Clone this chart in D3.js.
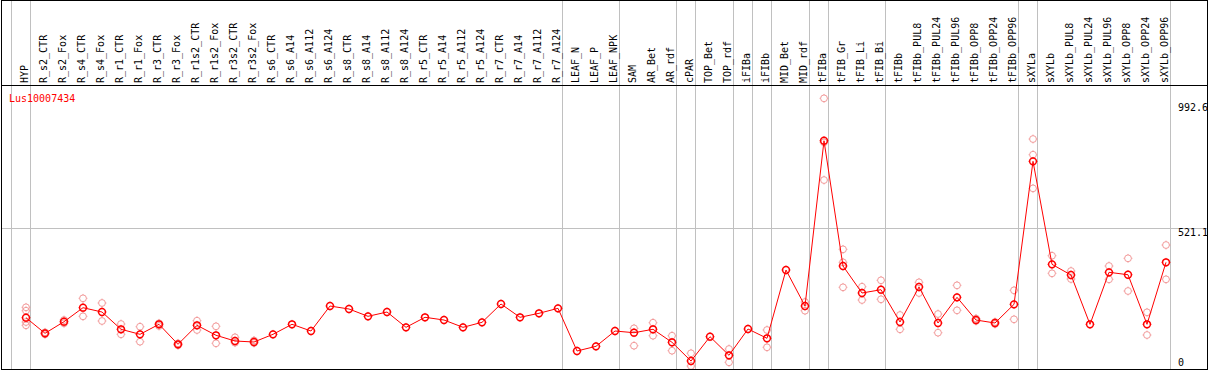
<!DOCTYPE html>
<html>
<head>
<meta charset="utf-8">
<script src="https://cdn.jsdelivr.net/npm/d3@7"></script>
<style>
  body { margin: 0; background: #fff; }
  svg { display: block; }
  text { font-family: "DejaVu Sans Mono", "Liberation Mono", monospace; font-size: 10px; }
</style>
</head>
<body>
<div id="chart"></div>
<script>
var width = 1209;
var height = 370;

var geneName = "Lus10007434";

var columns = ["HYP", "R_s2_CTR", "R_s2_Fox", "R_s4_CTR", "R_s4_Fox", "R_r1_CTR", "R_r1_Fox",
  "R_r3_CTR", "R_r3_Fox", "R_r1s2_CTR", "R_r1s2_Fox", "R_r3s2_CTR", "R_r3s2_Fox", "R_s6_CTR",
  "R_s6_A14", "R_s6_A112", "R_s6_A124", "R_s8_CTR", "R_s8_A14", "R_s8_A112", "R_s8_A124",
  "R_r5_CTR", "R_r5_A14", "R_r5_A112", "R_r5_A124", "R_r7_CTR", "R_r7_A14", "R_r7_A112",
  "R_r7_A124", "LEAF_N", "LEAF_P", "LEAF_NPK", "SAM", "AR_Bet", "AR_rdf", "cPAR", "TOP_Bet",
  "TOP_rdf", "iFIBa", "iFIBb", "MID_Bet", "MID_rdf", "tFIBa", "tFIB_Gr", "tFIB_Li", "tFIB_Bi",
  "tFIBb", "tFIBb_PUL8", "tFIBb_PUL24", "tFIBb_PUL96", "tFIBb_OPP8", "tFIBb_OPP24",
  "tFIBb_OPP96", "sXYLa", "sXYLb", "sXYLb_PUL8", "sXYLb_PUL24", "sXYLb_PUL96", "sXYLb_OPP8",
  "sXYLb_OPP24", "sXYLb_OPP96"];

// first column of each sample group (gray separators)
var groupStarts = ["HYP", "R_s2_CTR", "LEAF_N", "SAM", "cPAR", "TOP_Bet", "iFIBa", "iFIBb",
  "MID_Bet", "tFIBa", "tFIB_Gr", "tFIBb", "sXYLa", "sXYLb"];

var means = [182.7, 123.7, 167.6, 220.6, 204.3, 138.9, 119.9, 157.8, 82.1, 154.0, 116.2, 94.6,
  90.8, 119.9, 157.8, 132.4, 227.0, 215.7, 188.0, 204.3, 146.4, 184.3, 174.0, 146.4, 165.3,
  234.6, 184.3, 199.4, 218.3, 56.8, 74.5, 132.4, 126.0, 138.9, 89.7, 18.9, 110.9, 40.5, 140.0,
  104.8, 363.2, 227.0, 852.4, 378.4, 276.2, 288.7, 166.5, 298.9, 162.7, 259.9, 174.0, 162.7,
  233.4, 774.5, 384.8, 344.3, 157.8, 354.5, 345.4, 157.8, 392.4];

var replicates = [
  [222.1, 209.2, 166.5, 154.0], [127.5, 120.0], [174.0, 161.6], [256.1, 188.0], [238.4, 170.3],
  [158.9, 119.9], [148.7, 91.9], [161.6, 151.3], [85.9, 78.3], [171.4, 136.2], [150.2, 85.9],
  [108.6, 88.2], [96.5, 87.0], [], [], [], [], [], [], [], [], [], [], [], [], [], [], [], [],
  [], [], [], [142.6, 76.8], [163.8, 114.6], [114.6, 57.9], [48.1, 0], [], [64.3, 14.0], [],
  [136.2, 70.8], [], [242.2, 209.2], [1012.9, 846.4, 703.7], [441.5, 392.4, 297.8],
  [300.0, 249.7], [324.3, 252.4], [193.0, 138.9], [316.7, 276.2], [196.7, 126.0],
  [305.3, 210.7], [179.7, 170.3], [166.5, 158.9], [286.4, 176.7], [858.9, 799.5, 672.3],
  [417.3, 350.7], [359.4, 329.2], [], [378.4, 328.0], [407.5, 283.8], [203.2, 117.3],
  [457.8, 328.0]];

var yTicks = [0, 521.1, 992.6];

function drawMarker(g, x, y, color, sw) {
  var r = 3.4;
  g.append("circle")
    .attr("cx", x).attr("cy", y).attr("r", r)
    .attr("fill", "none").attr("stroke", color).attr("stroke-width", sw);
  var t = [[0, -1], [0, 1], [-1, 0], [1, 0]];
  t.forEach(function (d) {
    g.append("line")
      .attr("x1", x + d[0] * r).attr("y1", y + d[1] * r)
      .attr("x2", x + d[0] * (r + 1)).attr("y2", y + d[1] * (r + 1))
      .attr("stroke", color).attr("stroke-width", 1);
  });
}

function render() {
  var svg = d3.select("#chart").append("svg")
    .attr("width", width).attr("height", height);

  var x = d3.scaleBand().domain(columns).range([11.5, 11.5 + columns.length * 19]);
  var y = d3.scaleLinear().domain([0, 521.1]).range([366, 228.3]);
  var px = function (c) { return x(c) + 14.5; };

  svg.append("defs").append("clipPath").attr("id", "plot-clip")
    .append("rect").attr("x", 1).attr("y", 86).attr("width", 1207).attr("height", 283);

  // horizontal grid line
  svg.append("line")
    .attr("x1", 1).attr("x2", 1208)
    .attr("y1", Math.round(y(yTicks[1])) + 0.5).attr("y2", Math.round(y(yTicks[1])) + 0.5)
    .attr("stroke", "#c0c0c0")
    .attr("shape-rendering", "crispEdges");

  // group separators
  var seps = groupStarts.map(function (c) { return x(c) - 0.5; });
  seps.push(x.range()[1] - 0.5);
  svg.selectAll("line.sep")
    .data(seps)
    .enter()
    .append("line")
    .attr("class", "sep")
    .attr("x1", function (d) { return Math.round(d) + 0.5; })
    .attr("x2", function (d) { return Math.round(d) + 0.5; })
    .attr("y1", 0).attr("y2", 369)
    .attr("stroke", "#c0c0c0")
    .attr("shape-rendering", "crispEdges");

  // column labels
  svg.selectAll("text.col")
    .data(columns)
    .enter()
    .append("text")
    .attr("class", "col")
    .attr("transform", function (d) { return "translate(" + (x(d) + 16.5) + ",83) rotate(-90)"; })
    .attr("fill", "#000")
    .text(function (d) { return d; });

  // y tick labels on the right
  svg.selectAll("text.ytick")
    .data(yTicks)
    .enter()
    .append("text")
    .attr("class", "ytick")
    .attr("x", 1178)
    .attr("y", function (d) { return Math.min(y(d) + 7.5, 366); })
    .attr("fill", "#000")
    .text(function (d) { return d; });

  var plot = svg.append("g").attr("clip-path", "url(#plot-clip)");

  // replicate points
  replicates.forEach(function (reps, i) {
    reps.forEach(function (v) {
      drawMarker(plot, px(columns[i]), y(v), "#f29a9a", 1);
    });
  });

  // mean line
  plot.append("path")
    .datum(means)
    .attr("fill", "none")
    .attr("stroke", "#ff0000")
    .attr("stroke-width", 1)
    .attr("d", d3.line()
      .x(function (d, i) { return px(columns[i]); })
      .y(function (d) { return y(d); }));

  means.forEach(function (v, i) {
    drawMarker(plot, px(columns[i]), y(v), "#ff0000", 1.5);
  });

  svg.append("text")
    .attr("x", 9).attr("y", 101.5)
    .attr("fill", "#ff0000")
    .text(geneName);

  // frame
  svg.append("rect")
    .attr("x", 1.5).attr("y", 0.5).attr("width", 1206).attr("height", 368.5)
    .attr("fill", "none").attr("stroke", "#000")
    .attr("shape-rendering", "crispEdges");
  svg.append("line")
    .attr("x1", 1).attr("x2", 1208).attr("y1", 85.5).attr("y2", 85.5)
    .attr("stroke", "#000")
    .attr("shape-rendering", "crispEdges");
}

window.onload = render;
</script>
</body>
</html>
